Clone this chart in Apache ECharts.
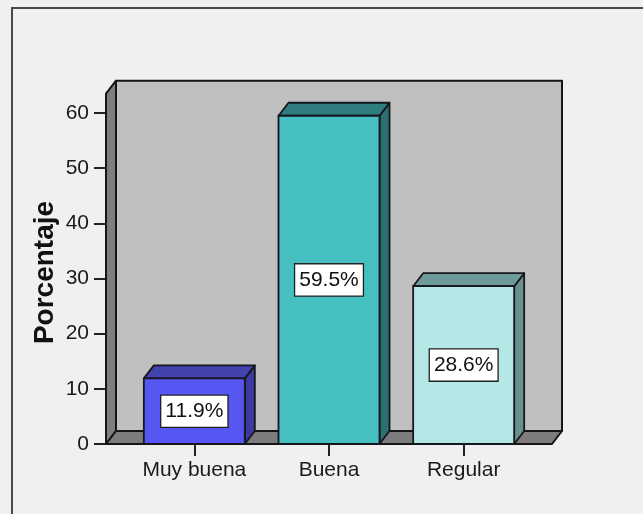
<!DOCTYPE html>
<html>
<head>
<meta charset="utf-8">
<script src="https://cdn.jsdelivr.net/npm/echarts@6/dist/echarts.min.js"></script>
<style>
  html, body { margin: 0; padding: 0; background: #f0f0f0; }
  #chart { width: 643px; height: 514px; }
</style>
</head>
<body>
<div id="chart"></div>
<script>
// Rating categories and their share of respondents (%)
const categories = ['Muy buena', 'Buena', 'Regular'];
const percentages = [11.9, 59.5, 28.6];

// Value axis range and step
const yMin = 0;
const yMax = 60;
const yStep = 10;

// Height of the 3D walls, in axis units
const wallTop = 63.5;

// Per-bar palette: front face, top face, side face
const frontColors = ['#5656f2', '#45bfc0', '#b6e7e7'];
const topColors = ['#4343b0', '#2f7d7e', '#6e9a9a'];
const sideColors = ['#3a3aa0', '#2c7070', '#6a9090'];

// 3D depth offset in pixels and side padding of the floor
const DX = 10;
const DY = -13;
const PAD = 21;
const EDGE = '#16161f';
const FONT = '"Liberation Sans", Arial, sans-serif';

const chart = echarts.init(document.getElementById('chart'));

function renderWalls(params, api) {
  const band = api.size([1, 0])[0];
  const first = api.coord([0, 0]);
  const last = api.coord([categories.length - 1, 0]);
  const x0 = first[0] - band / 2 - PAD;
  const x1 = last[0] + band / 2 + PAD;
  const yb = first[1];
  const yt = api.coord([0, wallTop])[1];
  const line = { stroke: '#151515', lineWidth: 2, lineJoin: 'round' };
  return {
    type: 'group',
    children: [
      { // back wall
        type: 'polygon',
        shape: { points: [[x0 + DX, yt + DY], [x1 + DX, yt + DY], [x1 + DX, yb + DY], [x0 + DX, yb + DY]] },
        style: Object.assign({ fill: '#c0c0c0' }, line)
      },
      { // left wall
        type: 'polygon',
        shape: { points: [[x0, yb], [x0, yt], [x0 + DX, yt + DY], [x0 + DX, yb + DY]] },
        style: Object.assign({ fill: '#7e7e7e' }, line)
      },
      { // floor
        type: 'polygon',
        shape: { points: [[x0, yb], [x0 + DX, yb + DY], [x1 + DX, yb + DY], [x1, yb]] },
        style: Object.assign({ fill: '#7c7c7c' }, line)
      }
    ]
  };
}

function renderBar(params, api) {
  const i = api.value(0);
  const v = api.value(1);
  const band = api.size([1, 0])[0];
  const w = band * 0.75;
  const base = api.coord([i, 0]);
  const top = api.coord([i, v]);
  const xl = base[0] - w / 2;
  const xr = base[0] + w / 2;
  const yb = base[1];
  const yt = top[1];
  const edge = { stroke: EDGE, lineWidth: 1.8, lineJoin: 'round' };
  return {
    type: 'group',
    children: [
      {
        type: 'polygon',
        shape: { points: [[xr, yt], [xr + DX, yt + DY], [xr + DX, yb + DY], [xr, yb]] },
        style: Object.assign({ fill: sideColors[i] }, edge)
      },
      {
        type: 'polygon',
        shape: { points: [[xl, yt], [xl + DX, yt + DY], [xr + DX, yt + DY], [xr, yt]] },
        style: Object.assign({ fill: topColors[i] }, edge)
      },
      {
        type: 'rect',
        shape: { x: xl, y: yt, width: w, height: yb - yt },
        style: Object.assign({ fill: frontColors[i] }, edge)
      },
      {
        type: 'text',
        x: base[0],
        y: (yt + yb) / 2,
        style: {
          text: v.toFixed(1) + '%',
          font: '21px ' + FONT,
          fill: '#111',
          align: 'center',
          verticalAlign: 'middle',
          backgroundColor: '#ffffff',
          borderColor: '#202020',
          borderWidth: 1.3,
          padding: [6, 4, 4, 4]
        }
      }
    ]
  };
}

chart.setOption({
  backgroundColor: '#f0f0f0',
  animation: false,
  graphic: [{
    type: 'rect',
    shape: { x: 12, y: 8, width: 700, height: 600 },
    style: { fill: 'none', stroke: '#4a4a4a', lineWidth: 2 },
    z: 0
  }],
  grid: { left: 127, right: 112, top: 113, bottom: 70, containLabel: false },
  xAxis: {
    type: 'category',
    data: categories,
    axisLine: { show: false },
    axisTick: { show: true, alignWithLabel: true, length: 12, lineStyle: { color: '#222', width: 2 } },
    axisLabel: { interval: 0, color: '#1a1a1a', fontSize: 21, fontFamily: FONT, margin: 16 }
  },
  yAxis: {
    type: 'value',
    min: yMin, max: yMax, interval: yStep,
    offset: PAD,
    name: 'Porcentaje',
    nameLocation: 'middle',
    nameRotate: 90,
    nameGap: 47,
    nameMoveOverlap: false,
    nameTextStyle: { color: '#111', fontSize: 28, fontWeight: 'bold', fontFamily: FONT, padding: [0, 0, 0, 12] },
    splitLine: { show: false },
    axisLine: { show: false },
    axisTick: { show: true, length: 12, lineStyle: { color: '#222', width: 2 } },
    axisLabel: { color: '#1a1a1a', fontSize: 21, fontFamily: FONT, margin: 17 }
  },
  series: [
    {
      type: 'custom',
      renderItem: renderWalls,
      data: [[0, 0]],
      silent: true,
      z: 1
    },
    {
      type: 'custom',
      renderItem: renderBar,
      data: percentages.map((p, i) => [i, p]),
      encode: { x: 0, y: 1 },
      z: 2
    }
  ]
});
</script>
</body>
</html>
